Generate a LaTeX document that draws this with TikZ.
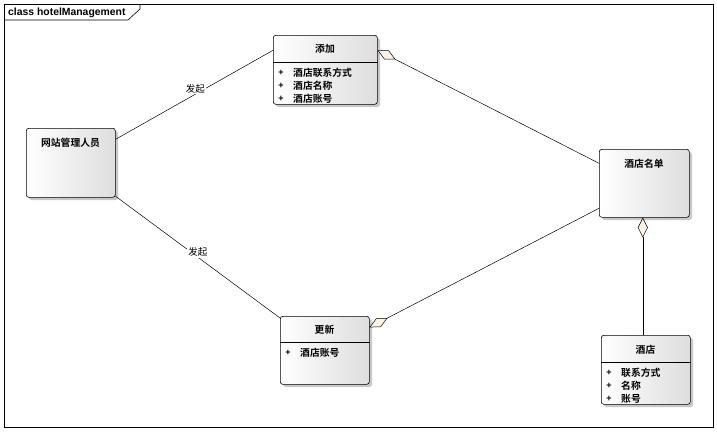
\documentclass[tikz,border=0pt]{standalone}
\usepackage{fontspec}
\setmainfont{Liberation Sans}
\newfontfamily\cjk{Noto Sans CJK SC}
\newfontfamily\cjkb{Noto Sans CJK SC Bold}
\usetikzlibrary{arrows.meta,calc}
\definecolor{cream}{HTML}{FFF4E4}
\definecolor{shadowc}{HTML}{C8C8C8}
\tikzset{
  cls/.style={draw=black, line width=0.6pt, rounded corners=2.5pt, left color=white, right color=black!13,
    inner sep=0pt, anchor=north west},
  hdr/.style={font=\cjkb\fontsize{9.8}{10}\selectfont, inner sep=0pt},
  attr/.style={font=\cjkb\fontsize{9.8}{10}\selectfont, inner sep=0pt, anchor=west},
  plus/.style={font=\fontsize{9}{10}\selectfont\bfseries, inner sep=0pt},
  conn/.style={draw=black, line width=0.5pt},
  agg/.style={conn, {Diamond[length=20pt, width=10pt, fill=cream, line width=0.5pt]}-},
  lbl/.style={font=\cjk\fontsize{9.5}{10}\selectfont, inner sep=1pt, fill=white},
}
\newcommand{\shadowbox}[4]{\fill[shadowc, rounded corners=2.5pt] (#1+3,#2+3) rectangle (#3+3,#4+3);}
\begin{document}
\begin{tikzpicture}[x=1pt,y=-1pt]
\useasboundingbox (0,0) rectangle (717,431);
\fill[white] (0,0) rectangle (717,431);
% frame
\draw[line width=0.6pt] (4,4) rectangle (713,427);
\draw[line width=0.6pt] (4,20) -- (128,20) -- (140,9) -- (140,4);
\node[font=\fontsize{10.4}{12}\selectfont\bfseries, anchor=west, inner sep=0pt] (title) at (8,12.5) {class hotelManagement};

% shadows
\shadowbox{273}{35}{377}{104}
\shadowbox{26}{128}{115}{197}
\shadowbox{599}{149}{689}{217}
\shadowbox{280}{316}{369}{384}
\shadowbox{601}{335}{690}{404}

% classes
\node[cls, minimum width=104pt, minimum height=69pt] (tianjia) at (273,35) {};
\draw[line width=0.6pt] (tianjia.west |- 0,62) -- (tianjia.east |- 0,62);
\node[hdr] (tianjiaH) at (325,49) {添加};
\node[plus] (tp1) at (281,73) {+};
\node[attr] (ta1) at (293,73) {酒店联系方式};
\node[plus] (tp2) at (281,86) {+};
\node[attr] (ta2) at (293,86) {酒店名称};
\node[plus] (tp3) at (281,99) {+};
\node[attr] (ta3) at (293,99) {酒店账号};

\node[cls, minimum width=89pt, minimum height=69pt] (admin) at (26,128) {};
\node[hdr] (adminH) at (70.5,143) {网站管理人员};

\node[cls, minimum width=90pt, minimum height=68pt] (list) at (599,149) {};
\node[hdr] (listH) at (644,164) {酒店名单};

\node[cls, minimum width=89pt, minimum height=68pt] (gengxin) at (280,316) {};
\draw[line width=0.6pt] (gengxin.west |- 0,342) -- (gengxin.east |- 0,342);
\node[hdr] (gengxinH) at (324.5,330) {更新};
\node[plus] (gp1) at (288,353) {+};
\node[attr] (ga1) at (300,353) {酒店账号};

\node[cls, minimum width=89pt, minimum height=69pt] (hotel) at (601,335) {};
\draw[line width=0.6pt] (hotel.west |- 0,362) -- (hotel.east |- 0,362);
\node[hdr] (hotelH) at (645.5,350) {酒店};
\node[plus] (hp1) at (609,373) {+};
\node[attr] (ha1) at (621,373) {联系方式};
\node[plus] (hp2) at (609,386) {+};
\node[attr] (ha2) at (621,386) {名称};
\node[plus] (hp3) at (609,399) {+};
\node[attr] (ha3) at (621,399) {账号};

% connectors
\draw[conn] ([yshift=23.5pt]admin.east) -- node[lbl, pos=0.5, xshift=1pt, yshift=6pt] (l1) {发起} ([yshift=19.5pt]tianjia.west);
\draw[conn] ([yshift=-33.5pt]admin.east) -- node[lbl, pos=0.5, xshift=0pt, yshift=5pt] (l2) {发起} ([yshift=-2pt]gengxin.north west);
\draw[agg] ([yshift=19.5pt]tianjia.east) -- ([yshift=20pt]list.west);
\draw[agg] ([yshift=23pt]gengxin.east) -- ([yshift=-25pt]list.west);
\draw[agg] ([xshift=-1.5pt]list.south) -- ([xshift=-1.5pt]list.south |- hotel.north);
\end{tikzpicture}
\end{document}
